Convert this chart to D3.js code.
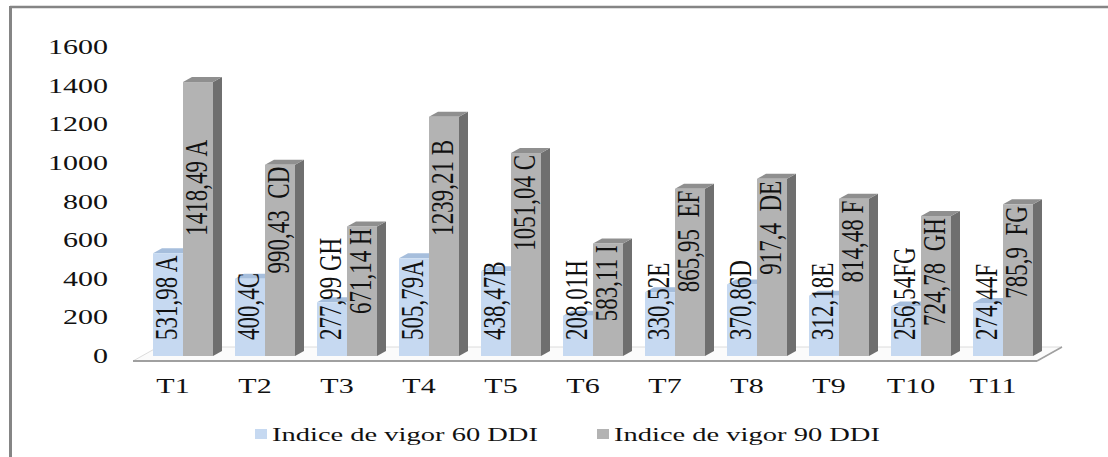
<!DOCTYPE html>
<html>
<head>
<meta charset="utf-8">
<script src="https://cdn.jsdelivr.net/npm/d3@7"></script>
<style>
  body { margin: 0; background: #fff; }
  svg { display: block; }
  text { font-family: "Liberation Serif", "Times New Roman", serif; fill: #111; }
</style>
</head>
<body>
<div id="chart"></div>
<script>
// chart data
const categories = ['T1', 'T2', 'T3', 'T4', 'T5', 'T6', 'T7', 'T8', 'T9', 'T10', 'T11'];
const seriesNames = ['Indice de vigor 60 DDI', 'Indice de vigor 90 DDI'];
const vigor60 = [531.98, 400.4, 277.99, 505.79, 438.47, 208.01, 330.52, 370.86, 312.18, 256.54, 274.44];
const vigor90 = [1418.49, 990.43, 671.14, 1239.21, 1051.04, 583.11, 865.95, 917.4, 814.48, 724.78, 785.9];
const labels60 = ['531,98 A', '400,4C', '277,99 GH', '505,79A', '438,47B', '208,01H', '330,52E', '370,86D', '312,18E', '256,54FG', '274,44F'];
const labels90 = ['1418,49 A', '990,43  CD', '671,14 H', '1239,21 B', '1051,04 C', '583,11 I', '865,95  EF', '917,4  DE', '814,48 F', '724,78  GH', '785,9  FG'];
const yTicks = [0, 200, 400, 600, 800, 1000, 1200, 1400, 1600];

const width = 1108, height = 457;
const colors = {
  front: ['#c6d9f1', '#b3b3b3'],
  top: ['#a6bedc', '#8f8f8f'],
  side: ['#8ea9cc', '#6f6f6f']
};
const depth = { dx: 9, dy: -5 };
const sx = 1.5; // the picture is stretched horizontally

const svg = d3.select('#chart').append('svg')
  .attr('width', width)
  .attr('height', height);

const x = d3.scaleBand().domain(categories).range([142, 1044])
  .paddingInner(22 / 82).paddingOuter(11 / 82);
const xs = d3.scaleBand().domain([0, 1]).range([0, x.bandwidth()]);
const y = d3.scaleLinear().domain([0, 1600]).range([356, 47]);

// frame
svg.append('line').attr('x1', 10).attr('x2', width).attr('y1', 7).attr('y2', 7)
  .attr('stroke', '#858585').attr('stroke-width', 2.5);
svg.append('line').attr('x1', 10.5).attr('x2', 10.5).attr('y1', 6).attr('y2', height)
  .attr('stroke', '#858585').attr('stroke-width', 3);

// floor
const fl = 133, fr = 1037, fy = 361, fdx = 25, fdy = -14;
svg.append('path')
  .attr('d', `M${fl},${fy}L${fr},${fy}L${fr + fdx},${fy + fdy}L${fl + fdx},${fy + fdy}Z`)
  .attr('fill', '#fbfbfb').attr('stroke', '#dcdcdc').attr('stroke-width', 1);
svg.append('line').attr('x1', fl).attr('x2', fr).attr('y1', fy).attr('y2', fy)
  .attr('stroke', '#a0a0a0').attr('stroke-width', 2);
svg.append('line').attr('x1', fr).attr('x2', fr + fdx).attr('y1', fy).attr('y2', fy + fdy)
  .attr('stroke', '#a0a0a0').attr('stroke-width', 1.5);

// y axis labels
svg.append('g').selectAll('text').data(yTicks).join('text')
  .attr('transform', d => `translate(108,${y(d)}) scale(${sx},1)`)
  .attr('text-anchor', 'end')
  .attr('dy', '0.35em')
  .style('font-size', '20px')
  .text(d => d);

// bars
const rows = categories.map((c, i) => ({ cat: c, vals: [vigor60[i], vigor90[i]], labs: [labels60[i], labels90[i]] }));
const bars = svg.append('g');
rows.forEach(r => {
  r.vals.forEach((v, s) => {
    const x0 = x(r.cat) + xs(s), w = xs.bandwidth();
    const yt = y(v), yb = y(0);
    const g = bars.append('g');
    g.append('path')
      .attr('d', `M${x0 + w},${yt}L${x0 + w + depth.dx},${yt + depth.dy}L${x0 + w + depth.dx},${yb + depth.dy}L${x0 + w},${yb}Z`)
      .attr('fill', colors.side[s]);
    g.append('path')
      .attr('d', `M${x0},${yt}L${x0 + depth.dx},${yt + depth.dy}L${x0 + w + depth.dx},${yt + depth.dy}L${x0 + w},${yt}Z`)
      .attr('fill', colors.top[s]);
    g.append('rect')
      .attr('x', x0).attr('y', yt)
      .attr('width', w).attr('height', yb - yt)
      .attr('fill', colors.front[s]);
  });
});

// data labels, rotated
const labs = svg.append('g');
rows.forEach(r => {
  r.vals.forEach((v, s) => {
    const cx = x(r.cat) + xs(s) + xs.bandwidth() / 2 + 9;
    const pos = s === 0 ? y(0) - 16 : Math.max(y(v) + 2, 140);
    labs.append('text')
      .attr('transform', `translate(${cx},${pos}) scale(1.35,1) rotate(-90)`)
      .attr('text-anchor', s === 0 ? 'start' : 'end')
      .style('font-size', '23px')
      .style('white-space', 'pre')
      .text(r.labs[s]);
  });
});

// category labels
svg.append('g').selectAll('text').data(categories).join('text')
  .attr('transform', d => `translate(${x(d) + x.bandwidth() / 2 - 10},393) scale(${sx},1)`)
  .attr('text-anchor', 'middle')
  .style('font-size', '20px')
  .text(d => d);

// legend
const legendX = [255, 597];
const legend = svg.append('g').selectAll('g').data(seriesNames).join('g')
  .attr('transform', (d, i) => `translate(${legendX[i]},0)`);
legend.append('rect')
  .attr('x', 0).attr('y', 429).attr('width', 12).attr('height', 10)
  .attr('fill', (d, i) => colors.front[i]);
legend.append('text')
  .attr('transform', `translate(17,441) scale(${sx},1)`)
  .style('font-size', '19px')
  .text(d => d);
</script>
</body>
</html>
